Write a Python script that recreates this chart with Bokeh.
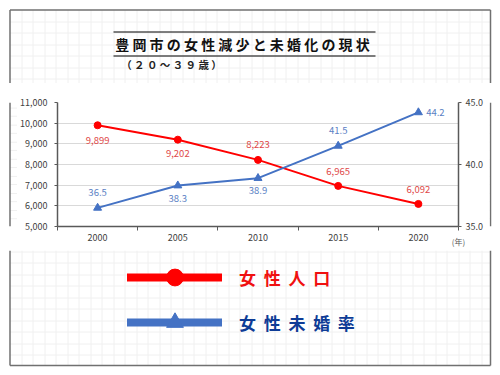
from bokeh.plotting import figure
from bokeh.layouts import column, row
from bokeh.models import (Range1d, LinearAxis, FixedTicker, NumeralTickFormatter,
                          ColumnDataSource, LabelSet, Legend, LegendItem)
from bokeh.core.properties import value
from bokeh.embed import file_html
from bokeh.resources import INLINE

# ---- data ----
years = [2000, 2005, 2010, 2015, 2020]
female_pop = [9899, 9202, 8223, 6965, 6092]
unmarried_rate = [36.5, 38.3, 38.9, 41.5, 44.2]
left_ticks = [5000, 6000, 7000, 8000, 9000, 10000, 11000]
right_ticks = [35, 40, 45]
title_text = "豊 岡 市 の 女 性 減 少 と 未 婚 化 の 現 状"
subtitle_text = "（ ２ ０ ～ ３ ９ 歳 ）"
legend_pop = "女  性  人  口"
legend_rate = "女  性  未  婚  率"
year_unit = "(年)"

# ---- label placement (style) ----
pop_dy = [-15, -14, 15, 14, 14]
rate_dx = [0, 0, 0, 0, 17]
rate_dy = [15, -13, -12, 15, 0]

FONT = "Noto Sans CJK JP"
RED = "#ff0000"
BLUE = "#4472c4"
AXIS = "#595959"
PAPER = "#f0f0f0"
EDGE = "#707070"
W, H = 500, 375
B_L, B_R, B_T, B_B = 9.5, 490, 9.5, 365      # outer frame (page px)
CH_T, CH_B, CH_L, CH_R = 83, 250, 17, 489     # white chart panel (page px)
STEP = 11.5


def page_fig(x0, x1, y0, y1):
    f = figure(width=x1 - x0, height=y1 - y0, output_backend="svg", toolbar_location=None,
               x_range=Range1d(x0, x1), y_range=Range1d(y1, y0),
               x_axis_type=None, y_axis_type=None, min_border=0,
               min_border_left=0, min_border_right=0, min_border_top=0, min_border_bottom=0,
               outline_line_color=None, background_fill_color="white", border_fill_color="white")
    # graph paper
    gx = [int(B_L + STEP * k) + 0.5 for k in range(1, 60) if B_L + STEP * k < B_R - 2]
    gy = [int(B_T + STEP * k) + 0.5 for k in range(1, 60) if B_T + STEP * k < B_B - 2]
    xa0, xa1 = max(x0, B_L), min(x1, B_R)
    ya0, ya1 = max(y0, B_T), min(y1, B_B)
    vx = [x for x in gx if x0 <= x <= x1]
    hy = [y for y in gy if y0 <= y <= y1]
    if vx:
        f.segment(x0=vx, y0=[ya0] * len(vx), x1=vx, y1=[ya1] * len(vx),
                  line_color=PAPER, line_width=1)
    if hy:
        f.segment(x0=[xa0] * len(hy), y0=hy, x1=[xa1] * len(hy), y1=hy,
                  line_color=PAPER, line_width=1)
    # outer frame pieces
    if x0 <= B_L <= x1:
        f.segment(x0=[B_L], y0=[ya0], x1=[B_L], y1=[ya1], line_color=EDGE, line_width=1.5)
    if x0 <= B_R <= x1:
        f.segment(x0=[B_R], y0=[ya0], x1=[B_R], y1=[ya1], line_color=EDGE, line_width=1.5)
    if y0 <= B_T <= y1:
        f.segment(x0=[xa0], y0=[B_T], x1=[xa1], y1=[B_T], line_color=EDGE, line_width=1.5)
    if y0 <= B_B <= y1:
        f.segment(x0=[xa0], y0=[B_B], x1=[xa1], y1=[B_B], line_color=EDGE, line_width=1.5)
    return f


# ---- header ----
head = page_fig(0, W, 0, CH_T)
head.segment(x0=[113, 113], y0=[31.5, 55.5], x1=[375, 375], y1=[31.5, 55.5],
             line_color="black", line_width=1)
head.text(x=[242], y=[43], text=[title_text], text_font=value(FONT), text_font_size="14px",
          text_font_style="bold", text_color="#111111", text_align="center", text_baseline="middle")
head.text(x=[171], y=[64], text=[subtitle_text], text_font=value(FONT), text_font_size="10.5px",
          text_font_style="bold", text_color="#222222", text_align="center", text_baseline="middle")

# ---- side strips of the chart band ----
left_strip = page_fig(0, CH_L, CH_T, CH_B)
right_strip = page_fig(CH_R, W, CH_T, CH_B)

# ---- chart ----
p = figure(width=CH_R - CH_L, height=CH_B - CH_T, output_backend="svg", toolbar_location=None,
           x_range=Range1d(years[0] - 2.5, years[-1] + 2.5),
           y_range=Range1d(left_ticks[0], left_ticks[-1]),
           min_border_left=39, min_border_right=31, min_border_top=19, min_border_bottom=24,
           background_fill_color="white", border_fill_color="white", outline_line_color=None)
p.extra_y_ranges = {"rate": Range1d(right_ticks[0], right_ticks[-1])}

xa = p.xaxis[0]
xa.ticker = FixedTicker(ticks=years, minor_ticks=[y - 2.5 for y in years] + [years[-1] + 2.5])
xa.major_tick_line_color = None
xa.major_tick_out = 0
xa.major_tick_in = 0
xa.minor_tick_out = 4
xa.minor_tick_in = 0
xa.minor_tick_line_color = AXIS
xa.axis_line_color = AXIS
xa.axis_line_width = 1.5
xa.major_label_text_font = FONT
xa.major_label_text_font_size = "9px"
xa.major_label_text_color = "#404040"
xa.major_label_standoff = 3
xa.axis_label = year_unit
xa.axis_label_text_font = FONT
xa.axis_label_text_font_size = "8px"
xa.axis_label_text_font_style = "normal"
xa.axis_label_text_color = AXIS
xa.axis_label_standoff = -8
if "axis_label_align" in type(xa).properties():
    xa.axis_label_align = "end"

ya = p.yaxis[0]
ya.ticker = FixedTicker(ticks=left_ticks)
ya.formatter = NumeralTickFormatter(format="0,0")
ya.major_tick_out = 3
ya.major_tick_in = 0
ya.minor_tick_line_color = None
ya.major_tick_line_color = AXIS
ya.axis_line_color = AXIS
ya.axis_line_width = 1.5
ya.major_label_text_font = FONT
ya.major_label_text_font_size = "9px"
ya.major_label_text_color = "#404040"
ya.major_label_standoff = 7

ra = LinearAxis(y_range_name="rate", ticker=FixedTicker(ticks=right_ticks),
                formatter=NumeralTickFormatter(format="0.0"))
ra.major_tick_out = 3
ra.major_tick_in = 0
ra.minor_tick_line_color = None
ra.major_tick_line_color = AXIS
ra.axis_line_color = AXIS
ra.axis_line_width = 1.5
ra.major_label_text_font = FONT
ra.major_label_text_font_size = "9px"
ra.major_label_text_color = "#404040"
ra.major_label_standoff = 4
p.add_layout(ra, "right")

p.xgrid.grid_line_color = None
p.ygrid.ticker = FixedTicker(ticks=left_ticks)
p.ygrid.grid_line_color = "#d9d9d9"
p.ygrid.grid_line_width = 1

src = ColumnDataSource(dict(
    year=years, pop=female_pop, rate=unmarried_rate,
    pop_txt=[f"{v:,}" for v in female_pop],
    rate_txt=[f"{v:.1f}" for v in unmarried_rate],
    pop_dy=pop_dy, rate_dx=rate_dx, rate_dy=rate_dy))

p.line("year", "pop", source=src, line_color=RED, line_width=2)
p.scatter("year", "pop", source=src, marker="circle", size=7, fill_color=RED, line_color=RED)
p.line("year", "rate", source=src, y_range_name="rate", line_color=BLUE, line_width=2)
p.scatter("year", "rate", source=src, y_range_name="rate", marker="triangle", size=8,
          fill_color=BLUE, line_color=BLUE)

p.add_layout(LabelSet(x="year", y="pop", text="pop_txt", y_offset="pop_dy", source=src,
                      text_font=value(FONT), text_font_size="9.5px", text_color="#e04848",
                      text_align="center", text_baseline="middle"))
p.add_layout(LabelSet(x="year", y="rate", text="rate_txt", x_offset="rate_dx", y_offset="rate_dy",
                      y_range_name="rate", source=src,
                      text_font=value(FONT), text_font_size="9.5px", text_color="#5b7fc4",
                      text_align="center", text_baseline="middle"))

# ---- footer with legend ----
foot = page_fig(0, W, CH_B, H)
nan = float("nan")
leg_src = ColumnDataSource(dict(x=[nan], y=[nan]))
r_pl = foot.line("x", "y", source=leg_src, line_color=RED, line_width=8, line_cap="round")
r_pm = foot.scatter("x", "y", source=leg_src, marker="circle", size=17, fill_color=RED, line_color=RED)
r_bl = foot.line("x", "y", source=leg_src, line_color=BLUE, line_width=8, line_cap="round")
r_bm = foot.scatter("x", "y", source=leg_src, marker="triangle", size=17, fill_color=BLUE, line_color=BLUE)

for item, loc, col in ((LegendItem(label=legend_pop, renderers=[r_pl, r_pm]), (127, 77), "#f01010"),
                       (LegendItem(label=legend_rate, renderers=[r_bl, r_bm]), (127, 32), "#0e3c96")):
    lg = Legend(items=[item], location=loc, padding=0, margin=0, spacing=0,
                glyph_width=95, glyph_height=42, label_standoff=17,
                label_text_font=FONT, label_text_font_size="17px", label_text_font_style="bold",
                label_text_color=col, border_line_color=None, background_fill_alpha=0)
    foot.add_layout(lg)

layout = column(head, row(left_strip, p, right_strip), foot)
open("out.html", "w").write(file_html(layout, INLINE))
